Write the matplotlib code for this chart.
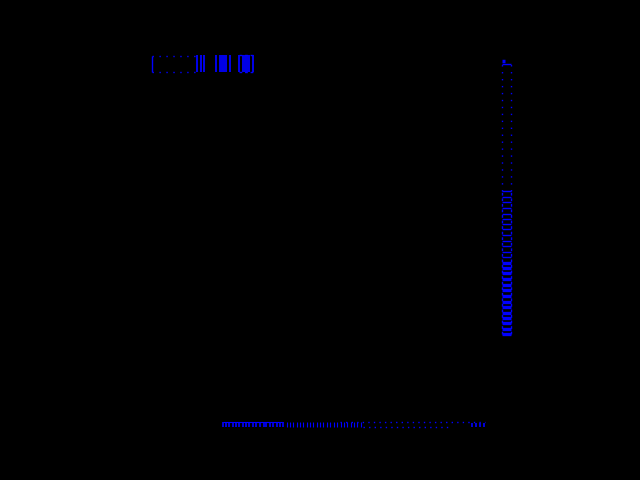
import matplotlib
matplotlib.use('Agg')
import matplotlib.pyplot as plt

# rug along the bottom edge (x positions, axis units 0-100)
bottom_rug_x = [28.8, 29.4, 30.1, 30.8, 31.5, 32.1, 32.8, 33.5, 34.1, 34.8,
                35.5, 36.3, 37.0, 37.6, 38.3, 39.0, 39.7, 40.3, 41.0, 41.7,
                42.3, 43.0, 43.7, 44.4, 45.0, 45.7, 46.4, 47.0, 47.7, 48.4,
                49.0, 49.7, 50.5, 51.2, 51.9, 52.6, 53.2, 53.9, 54.6, 55.2,
                55.9, 56.6]
bottom_end_x = [79.1, 79.9, 80.7, 81.5]

# ladder on the right (y positions)
right_rungs_y = [63.9, 62.3, 60.9, 59.3, 57.7, 56.3, 55.0, 53.6, 52.0, 50.4,
                 49.0, 47.4, 46.0, 44.4, 43.1, 41.7, 40.1, 38.5, 37.1, 35.5,
                 33.9, 32.5, 30.9, 29.5, 28.2, 26.6, 25.2]
right_top_y = [99.0, 98.3]

# strip along the top (x positions)
top_strip_x = [14.6, 23.6, 24.4, 25.0, 27.5, 28.3, 28.7, 29.1, 29.5, 30.2,
               32.1, 32.8, 33.2, 33.6, 34.0, 34.9]

BLUE = '#0000ff'

fig = plt.figure(figsize=(6.4, 4.8), dpi=100, facecolor='black')
ax = fig.add_subplot(111)
ax.set_facecolor('black')
ax.set_xlim(0, 100)
ax.set_ylim(0, 100)
ax.set_axis_off()

# bottom rug
heavy = [x for x in bottom_rug_x if x <= 41.0]
light = [x for x in bottom_rug_x if x > 41.0]
ax.vlines(heavy, 0.0, 1.5, color=BLUE, lw=1.2, clip_on=False)
ax.vlines(light, 0.0, 1.5, color=BLUE, lw=0.8, clip_on=False)
ax.vlines(bottom_end_x, 0.0, 1.2, color=BLUE, lw=1.2, clip_on=False)
ax.hlines(1.45, bottom_rug_x[0], 41.0, color=BLUE, lw=0.8, clip_on=False)
ax.hlines(1.33, 52.4, 81.6, color=BLUE, lw=1.0, ls=(0, (1, 3)), clip_on=False)
ax.hlines(0.15, 57.0, 74.6, color=BLUE, lw=1.0, ls=(0, (1, 3)), clip_on=False)

# right ladder
ax.vlines([85.1, 86.9], right_rungs_y[0], right_top_y[1], color=BLUE,
          lw=1.0, ls=(0, (1, 4)))
ax.vlines([85.1, 86.9], right_rungs_y[-1], right_rungs_y[0], color=BLUE,
          lw=1.0, ls=(0, (2, 2)))
upper = right_rungs_y[:13]
lower = right_rungs_y[13:]
ax.hlines(upper, 85.1, 86.9, color=BLUE, lw=1.0)
ax.hlines(lower, 85.1, 86.9, color=BLUE, lw=2.4)
ax.hlines(right_top_y[1], 85.1, 86.9, color=BLUE, lw=1.0)
ax.hlines(right_top_y[0], 85.1, 85.6, color=BLUE, lw=2.5)

# top strip
ax.vlines(top_strip_x[:1], 96.2, 100.4, color=BLUE, lw=1.0, clip_on=False)
ax.vlines(top_strip_x[1:], 96.0, 100.6, color=BLUE, lw=1.3, clip_on=False)
ax.hlines([96.2, 100.4], top_strip_x[0], top_strip_x[1], color=BLUE, lw=1.0,
          ls=(0, (1, 4)), clip_on=False)
ax.hlines([96.1, 100.6], top_strip_x[10], top_strip_x[-1], color=BLUE, lw=1.0,
          ls=(0, (2, 2)), clip_on=False)

fig.savefig('out.png', dpi=100, facecolor='black')
